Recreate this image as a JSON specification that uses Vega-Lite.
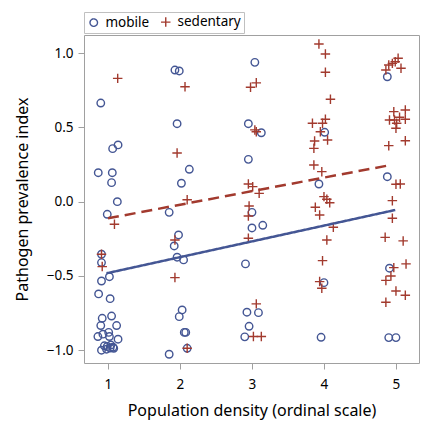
{
  "$schema": "https://vega.github.io/schema/vega-lite/v6.json",
  "width": 335,
  "height": 328,
  "autosize": "none",
  "padding": {"left": 84, "top": 35, "right": 6, "bottom": 71},
  "background": "white",
  "config": {
    "font": "Noto Sans",
    "view": {"stroke": "#a0a0a0", "strokeWidth": 1},
    "axis": {
      "domain": false, "grid": false, "tickColor": "#a0a0a0", "tickSize": 6,
      "labelFontSize": 13.5, "labelColor": "#000", "titleFontSize": 16,
      "titleFontWeight": "normal", "titleColor": "#000"
    }
  },
  "datasets": {
    "points": [
      {"group":"mobile","x":0.90,"y":0.664},{"group":"mobile","x":1.065,"y":0.357},{"group":"mobile","x":1.14,"y":0.382},
      {"group":"mobile","x":0.865,"y":0.195},{"group":"mobile","x":1.06,"y":0.195},{"group":"mobile","x":1.05,"y":0.128},
      {"group":"mobile","x":1.13,"y":0.0},{"group":"mobile","x":0.99,"y":-0.085},{"group":"mobile","x":0.91,"y":-0.354},
      {"group":"mobile","x":0.91,"y":-0.41},{"group":"mobile","x":0.91,"y":-0.534},{"group":"mobile","x":1.02,"y":-0.505},
      {"group":"mobile","x":0.87,"y":-0.621},{"group":"mobile","x":1.03,"y":-0.653},{"group":"mobile","x":0.92,"y":-0.785},
      {"group":"mobile","x":1.05,"y":-0.77},{"group":"mobile","x":1.12,"y":-0.834},{"group":"mobile","x":0.90,"y":-0.834},
      {"group":"mobile","x":0.86,"y":-0.908},{"group":"mobile","x":0.93,"y":-0.892},{"group":"mobile","x":1.01,"y":-0.88},
      {"group":"mobile","x":1.02,"y":-0.908},{"group":"mobile","x":1.14,"y":-0.926},{"group":"mobile","x":0.95,"y":-0.97},
      {"group":"mobile","x":0.99,"y":-0.975},{"group":"mobile","x":1.04,"y":-0.965},{"group":"mobile","x":1.07,"y":-0.98},
      {"group":"mobile","x":1.03,"y":-0.985},{"group":"mobile","x":0.91,"y":-1.0},{"group":"mobile","x":0.98,"y":-0.993},
      {"group":"mobile","x":1.08,"y":-0.987},
      {"group":"mobile","x":1.93,"y":0.886},{"group":"mobile","x":1.99,"y":0.88},{"group":"mobile","x":1.96,"y":0.525},
      {"group":"mobile","x":2.13,"y":0.218},{"group":"mobile","x":2.02,"y":0.124},{"group":"mobile","x":1.85,"y":-0.072},
      {"group":"mobile","x":1.98,"y":-0.224},{"group":"mobile","x":1.92,"y":-0.298},{"group":"mobile","x":1.96,"y":-0.374},
      {"group":"mobile","x":2.05,"y":-0.392},{"group":"mobile","x":2.03,"y":-0.729},{"group":"mobile","x":1.99,"y":-0.774},
      {"group":"mobile","x":2.06,"y":-0.88},{"group":"mobile","x":2.08,"y":-0.88},{"group":"mobile","x":1.85,"y":-1.027},
      {"group":"mobile","x":2.1,"y":-0.987},
      {"group":"mobile","x":3.04,"y":0.938},{"group":"mobile","x":2.95,"y":0.525},{"group":"mobile","x":3.13,"y":0.464},
      {"group":"mobile","x":2.95,"y":0.285},{"group":"mobile","x":3.0,"y":-0.072},{"group":"mobile","x":3.0,"y":-0.177},
      {"group":"mobile","x":3.15,"y":-0.159},{"group":"mobile","x":2.91,"y":-0.419},{"group":"mobile","x":2.93,"y":-0.744},
      {"group":"mobile","x":3.09,"y":-0.747},{"group":"mobile","x":2.96,"y":-0.839},{"group":"mobile","x":2.9,"y":-0.91},
      {"group":"mobile","x":4.01,"y":0.467},{"group":"mobile","x":3.93,"y":0.119},{"group":"mobile","x":4.0,"y":-0.545},
      {"group":"mobile","x":3.96,"y":-0.913},
      {"group":"mobile","x":4.88,"y":0.841},{"group":"mobile","x":4.88,"y":0.168},{"group":"mobile","x":4.91,"y":-0.448},
      {"group":"mobile","x":4.9,"y":-0.915},{"group":"mobile","x":5.0,"y":-0.915},
      {"group":"sedentary","x":1.135,"y":0.83},{"group":"sedentary","x":1.09,"y":-0.152},{"group":"sedentary","x":0.91,"y":-0.354},
      {"group":"sedentary","x":0.92,"y":-0.437},
      {"group":"sedentary","x":2.07,"y":0.774},{"group":"sedentary","x":1.96,"y":0.328},{"group":"sedentary","x":2.1,"y":0.013},
      {"group":"sedentary","x":1.93,"y":-0.258},{"group":"sedentary","x":1.93,"y":-0.511},{"group":"sedentary","x":2.1,"y":-0.987},
      {"group":"sedentary","x":3.06,"y":0.80},{"group":"sedentary","x":2.98,"y":0.77},{"group":"sedentary","x":3.04,"y":0.483},
      {"group":"sedentary","x":3.06,"y":0.471},{"group":"sedentary","x":2.95,"y":0.119},{"group":"sedentary","x":3.01,"y":0.101},
      {"group":"sedentary","x":3.10,"y":0.056},{"group":"sedentary","x":2.96,"y":-0.029},{"group":"sedentary","x":2.95,"y":-0.096},
      {"group":"sedentary","x":2.95,"y":-0.246},{"group":"sedentary","x":3.06,"y":-0.688},{"group":"sedentary","x":3.02,"y":-0.908},
      {"group":"sedentary","x":3.13,"y":-0.908},
      {"group":"sedentary","x":3.93,"y":1.061},{"group":"sedentary","x":4.02,"y":0.994},{"group":"sedentary","x":4.02,"y":0.871},
      {"group":"sedentary","x":4.09,"y":0.689},{"group":"sedentary","x":3.84,"y":0.528},{"group":"sedentary","x":3.98,"y":0.528},
      {"group":"sedentary","x":4.02,"y":0.555},{"group":"sedentary","x":3.95,"y":0.471},{"group":"sedentary","x":4.05,"y":0.415},
      {"group":"sedentary","x":3.87,"y":0.408},{"group":"sedentary","x":3.86,"y":0.359},{"group":"sedentary","x":3.86,"y":0.247},
      {"group":"sedentary","x":3.97,"y":0.202},{"group":"sedentary","x":4.0,"y":0.034},{"group":"sedentary","x":4.04,"y":0.016},
      {"group":"sedentary","x":4.08,"y":-0.007},{"group":"sedentary","x":3.88,"y":-0.038},{"group":"sedentary","x":3.94,"y":-0.09},
      {"group":"sedentary","x":4.13,"y":-0.172},{"group":"sedentary","x":4.04,"y":-0.258},{"group":"sedentary","x":3.98,"y":-0.397},
      {"group":"sedentary","x":3.94,"y":-0.538},{"group":"sedentary","x":3.97,"y":-0.583},
      {"group":"sedentary","x":5.03,"y":0.965},{"group":"sedentary","x":4.99,"y":0.942},{"group":"sedentary","x":4.95,"y":0.931},
      {"group":"sedentary","x":4.90,"y":0.92},{"group":"sedentary","x":4.86,"y":0.886},{"group":"sedentary","x":5.07,"y":0.898},
      {"group":"sedentary","x":4.97,"y":0.606},{"group":"sedentary","x":5.13,"y":0.617},{"group":"sedentary","x":4.91,"y":0.55},
      {"group":"sedentary","x":4.98,"y":0.55},{"group":"sedentary","x":5.01,"y":0.528},{"group":"sedentary","x":5.0,"y":0.494},
      {"group":"sedentary","x":5.13,"y":0.555},{"group":"sedentary","x":5.05,"y":0.568},{"group":"sedentary","x":4.9,"y":0.377},
      {"group":"sedentary","x":5.13,"y":0.41},{"group":"sedentary","x":5.0,"y":0.117},{"group":"sedentary","x":5.06,"y":0.119},
      {"group":"sedentary","x":4.95,"y":0.007},{"group":"sedentary","x":4.95,"y":-0.112},{"group":"sedentary","x":4.85,"y":-0.24},
      {"group":"sedentary","x":5.1,"y":-0.264},{"group":"sedentary","x":4.97,"y":-0.444},{"group":"sedentary","x":5.14,"y":-0.419},
      {"group":"sedentary","x":4.93,"y":-0.5},{"group":"sedentary","x":4.86,"y":-0.53},{"group":"sedentary","x":5.0,"y":-0.601},
      {"group":"sedentary","x":5.13,"y":-0.63},{"group":"sedentary","x":4.86,"y":-0.677}
    ],
    "fits": [
      {"group":"mobile","x":0.98,"y":-0.482},{"group":"mobile","x":4.99,"y":-0.056},
      {"group":"sedentary","x":1.0,"y":-0.112},{"group":"sedentary","x":4.93,"y":0.247}
    ]
  },
  "layer": [
    {
      "data": {"name": "points"},
      "mark": {"type": "point", "filled": false, "strokeWidth": 1.4, "opacity": 1},
      "encoding": {
        "x": {"field": "x", "type": "quantitative",
          "scale": {"domain": [0.667, 5.32], "nice": false, "zero": false},
          "axis": {"values": [1,2,3,4,5], "format": "d", "title": "Population density (ordinal scale)", "labelPadding": 8, "titlePadding": 12}},
        "y": {"field": "y", "type": "quantitative",
          "scale": {"domain": [-1.086, 1.122], "nice": false, "zero": false},
          "axis": {"values": [-1,-0.5,0,0.5,1], "format": ".1f", "title": "Pathogen prevalence index", "labelPadding": 5, "titlePadding": 16}},
        "color": {"field": "group", "type": "nominal",
          "scale": {"domain": ["mobile","sedentary"], "range": ["#445694","#A23A2E"]},
          "legend": {"title": null, "orient": "none", "legendX": 0, "legendY": -23, "direction": "horizontal",
            "strokeColor": "#c0c0c0", "padding": 3, "labelFontSize": 13.5, "labelColor": "#000",
            "symbolStrokeWidth": 1.4, "columnPadding": 8, "labelOffset": 5}},
        "shape": {"field": "group", "type": "nominal",
          "scale": {"domain": ["mobile","sedentary"], "range": ["circle", "M-1,0H1M0,-1V1"]}},
        "size": {"field": "group", "type": "nominal", "legend": null,
          "scale": {"domain": ["mobile","sedentary"], "range": [56, 90]}}
      }
    },
    {
      "data": {"name": "fits"},
      "mark": {"type": "line", "strokeWidth": 2.5},
      "encoding": {
        "x": {"field": "x", "type": "quantitative"},
        "y": {"field": "y", "type": "quantitative"},
        "color": {"field": "group", "type": "nominal"},
        "strokeDash": {"field": "group", "type": "nominal", "legend": null,
          "scale": {"domain": ["mobile","sedentary"], "range": [[1,0],[11,6]]}}
      }
    }
  ]
}
